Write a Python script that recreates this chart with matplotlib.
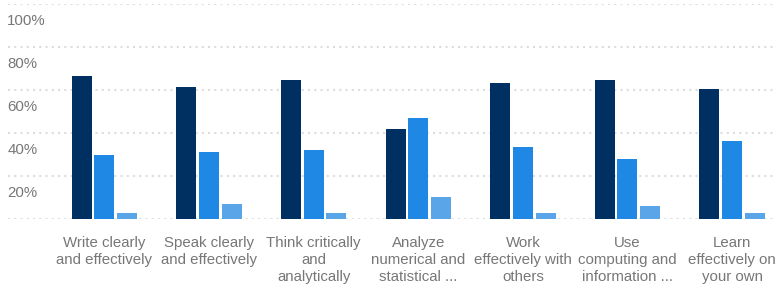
import matplotlib
matplotlib.use("Agg")
import matplotlib.pyplot as plt
import numpy as np

categories = [
    "Write clearly\nand effectively",
    "Speak clearly\nand effectively",
    "Think critically\nand\nanalytically",
    "Analyze\nnumerical and\nstatistical ...",
    "Work\neffectively with\nothers",
    "Use\ncomputing and\ninformation ...",
    "Learn\neffectively on\nyour own",
]
series_a = [66.5, 61.5, 64.7, 42.0, 63.3, 64.7, 60.5]
series_b = [29.8, 31.2, 32.1, 47.0, 33.5, 27.9, 36.3]
series_c = [2.8, 7.0, 2.8, 10.2, 2.8, 6.0, 2.8]
y_ticks = [0, 20, 40, 60, 80, 100]
y_tick_labels = ["", "20%", "40%", "60%", "80%", "100%"]

colors = ["#002f62", "#1f88e5", "#5aa5e8"]

plt.rcParams['font.family'] = ['Liberation Sans', 'DejaVu Sans']

W, H = 780, 284
fig = plt.figure(figsize=(W / 100, H / 100), dpi=100)
left_px, right_px, top_px, bottom_px = 8, 775, 4, 219
ax = fig.add_axes([left_px / W, 1 - bottom_px / H, (right_px - left_px) / W, (bottom_px - top_px) / H])

x = np.arange(len(categories))
spacing = 104.6
offset = 22.7 / spacing
width = 20.0 / spacing
for i, (vals, c) in enumerate(zip([series_a, series_b, series_c], colors)):
    ax.bar(x + (i - 1) * offset, vals, width=width, color=c, zorder=3)

x0 = -(104.5 - left_px) / spacing
ax.set_xlim(x0, x0 + (right_px - left_px) / spacing)
ax.set_ylim(0, 100)

for s in ax.spines.values():
    s.set_visible(False)
ax.set_yticks([])
ax.set_xticks([])
for t in y_ticks:
    ax.axhline(t, color="#dddddd", lw=1.5, ls=(0, (1, 2)), zorder=1)

for t, lab in zip(y_ticks, y_tick_labels):
    if lab:
        ax.annotate(lab, xy=(0, t), xycoords=("axes fraction", "data"),
                    xytext=(-0.5, -7), textcoords="offset points",
                    ha="left", va="top", fontsize=10.8, color="#777777")

for xi, lab in zip(x, categories):
    ax.annotate(lab, xy=(xi, 0), xycoords="data", xytext=(0, -12.5),
                textcoords="offset points", ha="center", va="top",
                fontsize=10.8, color="#777777", linespacing=1.27)

fig.savefig("out.png", dpi=100)
